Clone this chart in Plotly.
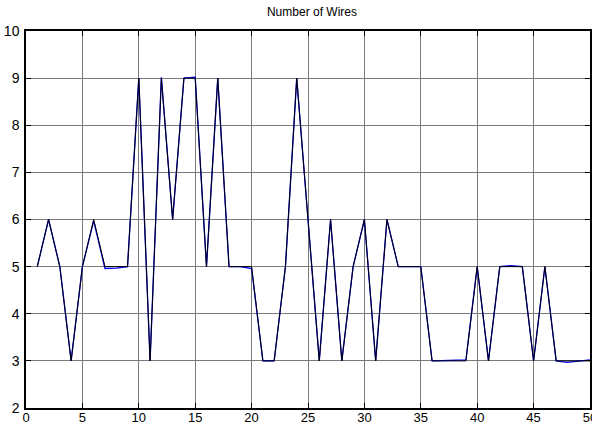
import plotly.graph_objects as go

x_vals = list(range(1, 51))
wires_int = [5, 6, 5, 3, 5, 6, 5, 5, 5, 9,
             3, 9, 6, 9, 9, 5, 9, 5, 5, 5,
             3, 3, 5, 9, 6, 3, 6, 3, 5, 6,
             3, 6, 5, 5, 5, 3, 3, 3, 3, 5,
             3, 5, 5, 5, 3, 5, 3, 3, 3, 3]
wires_est = [5, 6, 5, 3, 5, 5.97, 4.96, 4.97, 5, 9,
             3, 9.02, 6, 9, 9.02, 5, 9, 5, 5, 4.96,
             3, 3, 5, 9, 6, 3, 6, 3, 5, 6,
             3, 6, 5, 5, 5, 3, 3.01, 3.01, 3.02, 5,
             3, 5, 5.02, 5, 3, 5, 3, 2.97, 2.99, 3.02]
x_ticks = [0, 5, 10, 15, 20, 25, 30, 35, 40, 45, 50]
y_ticks = [2, 3, 4, 5, 6, 7, 8, 9, 10]
title_text = "Number of Wires"

fig = go.Figure()
fig.add_trace(go.Scatter(x=x_vals, y=wires_est, mode="lines",
                         line=dict(color="#0000ff", width=1.3)))
fig.add_trace(go.Scatter(x=x_vals, y=wires_int, mode="lines",
                         line=dict(color="#000000", width=1)))

axis_common = dict(showgrid=True, gridcolor="#7a7a7a", gridwidth=1,
                   showline=True, linecolor="black", linewidth=1.5,
                   mirror="ticks", ticks="inside", ticklen=5,
                   tickcolor="black", zeroline=False, automargin=False,
                   ticklabeloverflow="allow")

fig.update_layout(
    width=592, height=425,
    margin=dict(l=26, r=2, t=31, b=17),
    paper_bgcolor="white", plot_bgcolor="white",
    showlegend=False,
    title=dict(text=title_text, x=0.527, xanchor="center", y=0.972, yanchor="middle",
               font=dict(family="Liberation Sans, Arial", size=12, color="black")),
    xaxis=dict(range=[0, 50], tickmode="array", tickvals=x_ticks,
               ticktext=[str(v) for v in x_ticks], ticklabelstandoff=-3,
               tickfont=dict(family="Liberation Sans, Arial", size=13, color="black"),
               **axis_common),
    yaxis=dict(range=[2, 10], tickmode="array", tickvals=y_ticks,
               ticktext=[str(v) for v in y_ticks], ticklabelstandoff=2,
               tickfont=dict(family="Liberation Sans, Arial", size=14, color="black"),
               **axis_common),
)
fig.write_html("out.html")
